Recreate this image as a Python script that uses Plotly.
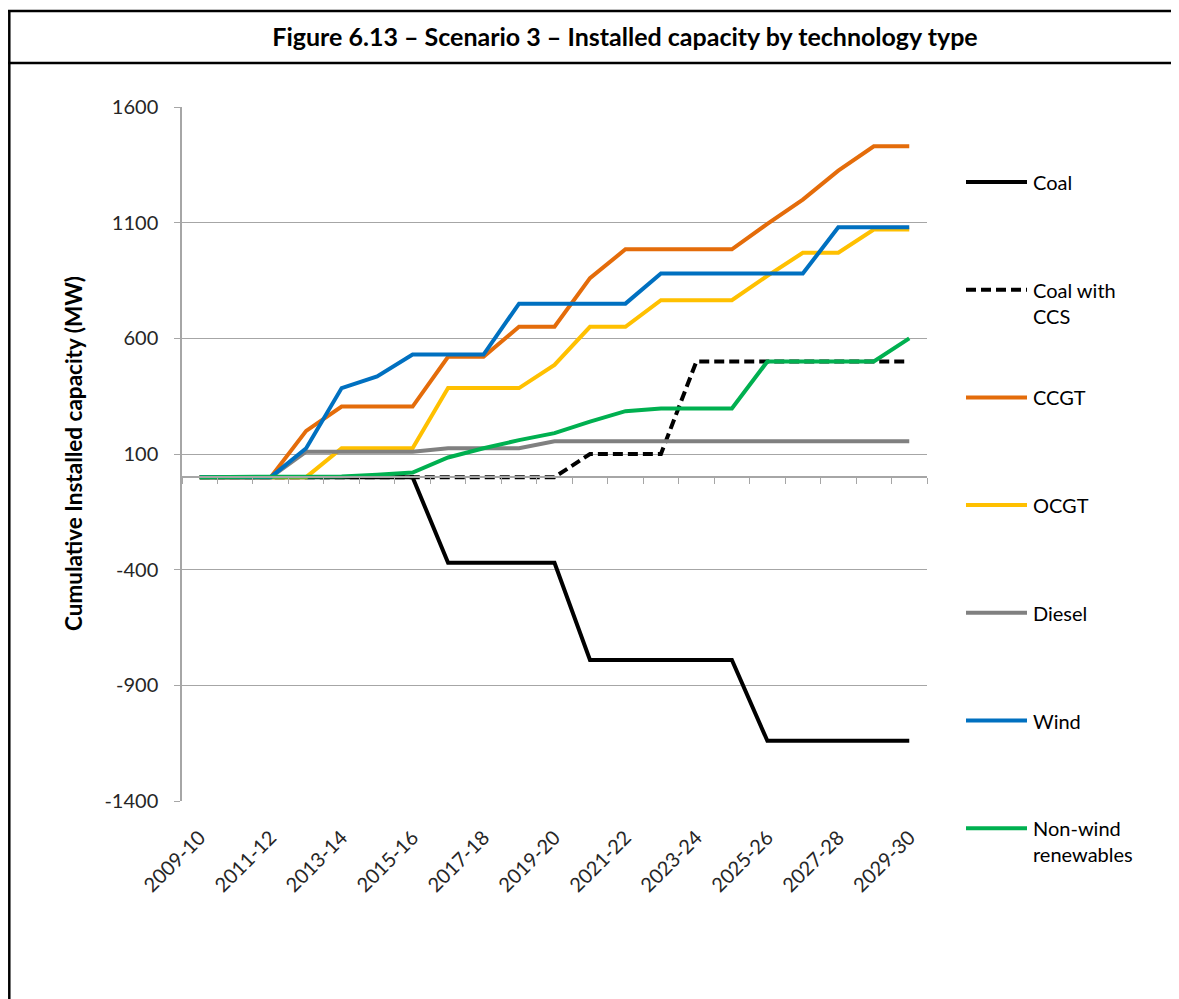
import plotly.graph_objects as go

# financial years on the x axis
years = [f"{y}-{str(y + 1)[-2:]}" for y in range(2009, 2030)]

# cumulative installed capacity (MW)
coal = [0, 0, 0, 0, 0, 0, 0, -370, -370, -370, -370, -790, -790, -790, -790, -790,
        -1140, -1140, -1140, -1140, -1140]
coal_ccs = [0, 0, 0, 0, 0, 0, 0, 0, 0, 0, 0, 100, 100, 100, 500, 500, 500, 500, 500, 500, 500]
ccgt = [0, 0, 0, 200, 305, 305, 305, 520, 520, 650, 650, 860, 985, 985, 985, 985,
        1095, 1200, 1325, 1430, 1430]
ocgt = [0, 0, 0, 0, 125, 125, 125, 385, 385, 385, 485, 650, 650, 765, 765, 765,
        870, 970, 970, 1070, 1070]
diesel = [0, 0, 0, 110, 110, 110, 110, 125, 125, 125, 155, 155, 155, 155, 155, 155,
          155, 155, 155, 155, 155]
wind = [0, 0, 0, 125, 385, 435, 530, 530, 530, 750, 750, 750, 750, 880, 880, 880,
        880, 880, 1080, 1080, 1080]
non_wind = [0, 0, 0, 0, 3, 10, 20, 85, 125, 160, 190, 240, 285, 297, 297, 297,
            500, 500, 500, 500, 600]

names = ["Coal", "Coal with<br>CCS", "CCGT", "OCGT", "Diesel", "Wind", "Non-wind<br>renewables"]
series = [coal, coal_ccs, ccgt, ocgt, diesel, wind, non_wind]
colors = ["#000000", "#000000", "#E46C0A", "#FFC000", "#808080", "#0070C0", "#00B050"]
dashes = ["solid", "10px,5px", "solid", "solid", "solid", "solid", "solid"]

y_ticks = [-1400, -900, -400, 100, 600, 1100, 1600]
y_labels = [str(v) for v in y_ticks]  # plain hyphen, not the unicode minus

FONT = "Lato"
# page body has an 8px margin, so the figure is drawn 8px in from the screenshot edge
OFF = 8
FIG_W, FIG_H = 1179 - OFF, 999 - OFF
# plot area in screenshot pixels
L, T, W, H = 182, 107, 745, 694


def px(xp):
    return (xp - L) / W


def py(yp):
    return (T + H - yp) / H


fig = go.Figure()
for name, vals, col, dash in zip(names, series, colors, dashes):
    fig.add_trace(go.Scatter(
        x=years, y=vals, mode="lines", name=name.replace("<br>", " "),
        line=dict(color=col, width=4, dash=dash), showlegend=False
    ))

# dummy trace so the zero-level axis (with the tick marks) gets its categories
fig.add_trace(go.Scatter(x=years, y=[None] * len(years), xaxis="x2",
                         showlegend=False, hoverinfo="skip"))

shapes = []
annotations = []
# hand-made legend on the right
for i, (name, col, dash) in enumerate(zip(names, colors, dashes)):
    yl = 182 + 107.7 * i
    shapes.append(dict(type="line", xref="paper", yref="paper",
                       x0=px(966), x1=px(1027), y0=py(yl), y1=py(yl),
                       line=dict(color=col, width=4, dash=dash)))
    annotations.append(dict(text=name, xref="paper", yref="paper",
                            x=px(1031), y=py(yl - 14), xanchor="left", yanchor="top",
                            align="left", showarrow=False,
                            font=dict(family=FONT, size=20, color="#000000")))

# y axis title
annotations.append(dict(text="<b>Cumulative Installed capacity (MW)</b>", textangle=-90,
                        xref="paper", yref="paper", x=px(73), y=py(454),
                        xanchor="center", yanchor="middle", showarrow=False,
                        font=dict(family=FONT, size=22.5, color="black")))

# frame around the figure + header row (left edge sits at the very edge of the figure)
shapes += [
    dict(type="line", xref="paper", yref="paper", x0=px(9.3), x1=px(9.3), y0=py(10), y1=py(1010),
         line=dict(color="black", width=2.5)),
    dict(type="line", xref="paper", yref="paper", x0=px(8), x1=px(1190), y0=py(11), y1=py(11),
         line=dict(color="black", width=2.5)),
    dict(type="line", xref="paper", yref="paper", x0=px(8), x1=px(1190), y0=py(63), y1=py(63),
         line=dict(color="black", width=2.5)),
]

fig.update_layout(
    width=FIG_W, height=FIG_H,
    margin=dict(l=L - OFF, r=FIG_W - (L - OFF) - W, t=T - OFF, b=FIG_H - (T - OFF) - H,
                autoexpand=False),
    paper_bgcolor="white", plot_bgcolor="white",
    font=dict(family=FONT, size=18, color="#262626"),
    title=dict(text="<b>Figure 6.13 – Scenario 3 – Installed capacity by technology type</b>",
               x=(625 - OFF) / FIG_W, y=1 - (37 - OFF) / FIG_H, xanchor="center", yanchor="middle",
               font=dict(family=FONT, size=25, color="black")),
    shapes=shapes, annotations=annotations,
    xaxis=dict(type="category", categoryorder="array", categoryarray=years,
               range=[-0.5, len(years) - 0.5], showgrid=False, showline=False,
               ticks="", tickangle=-45, tickvals=years[::2], ticktext=years[::2],
               ticklabelstandoff=20, tickfont=dict(size=20, color="#262626")),
    xaxis2=dict(type="category", categoryorder="array", categoryarray=years,
                range=[-0.5, len(years) - 0.5], overlaying="x", anchor="free",
                position=1400 / 3000, side="bottom", showgrid=False, showline=True,
                linecolor="#A6A6A6", linewidth=1.5, ticks="outside", ticklen=6,
                tickcolor="#A6A6A6", tickson="boundaries", showticklabels=False),
    yaxis=dict(range=[-1400, 1600], tickvals=y_ticks, ticktext=y_labels, showgrid=True,
               gridcolor="#A6A6A6", gridwidth=1, zeroline=False, showline=True,
               linecolor="#A6A6A6", linewidth=1.5, ticks="outside", ticklen=6,
               tickcolor="#A6A6A6", ticklabelstandoff=12,
               tickfont=dict(size=20, color="#262626")),
)

fig.write_html("out.html")
